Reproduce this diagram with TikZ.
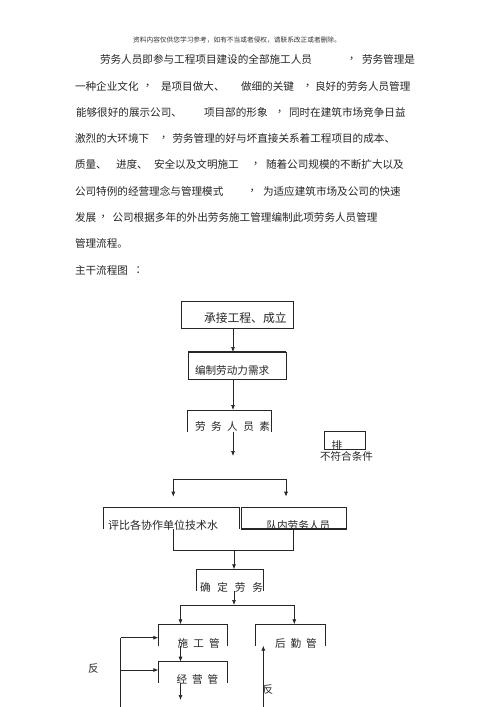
\documentclass[tikz,border=0pt]{standalone}
\usepackage{fontspec}
\setmainfont{Noto Sans CJK SC}
\usetikzlibrary{arrows.meta}
\begin{document}
\begin{tikzpicture}[x=1pt,y=-1pt,
  txt/.style={inner sep=0pt,outer sep=0pt,anchor=west,text=black!85,font=\fontsize{10.6}{12}\selectfont},
  hdr/.style={inner sep=0pt,outer sep=0pt,text=black!80,font=\fontsize{6.7}{8}\selectfont},
  boxn/.style={inner sep=0pt,outer sep=0pt,minimum height=#1},
  ln/.style={line width=0.7pt,black!85},
  arr/.style={ln,-{Latex[length=5pt,width=4pt]}}
]
\useasboundingbox[fill=white] (0,0) rectangle (500,707);

% header
\node[hdr] (hd) at (237,40) {资料内容仅供您学习参考，如有不当或者侵权，请联系改正或者删除。};

% paragraph
\node[txt] (p1a) at (100,59) {劳务人员即参与工程项目建设的全部施工人员};
\node[txt] (p1b) at (349,59) {，};
\node[txt] (p1c) at (362,59) {劳务管理是};

\node[txt] (p2a) at (75,86) {一种企业文化};
\node[txt] (p2b) at (145,86) {，};
\node[txt] (p2c) at (161,86) {是项目做大、};
\node[txt] (p2d) at (241,86) {做细的关键};
\node[txt] (p2e) at (305,86) {，};
\node[txt] (p2f) at (315,86) {良好的劳务人员管理};

\node[txt] (p3a) at (76,112) {能够很好的展示公司、};
\node[txt] (p3b) at (204,112) {项目部的形象};
\node[txt] (p3c) at (277,112) {，};
\node[txt] (p3d) at (289,112) {同时在建筑市场竞争日益};

\node[txt] (p4a) at (75,138) {激烈的大环境下};
\node[txt] (p4b) at (161,138) {，};
\node[txt] (p4c) at (172.5,138) {劳务管理的好与坏直接关系着工程项目的成本、};

\node[txt] (p5a) at (75,164) {质量、};
\node[txt] (p5b) at (116,164) {进度、};
\node[txt] (p5c) at (154,164) {安全以及文明施工};
\node[txt] (p5d) at (253,164) {，};
\node[txt] (p5e) at (266,164) {随着公司规模的不断扩大以及};

\node[txt] (p6a) at (75,191) {公司特例的经营理念与管理模式};
\node[txt] (p6b) at (249.5,191) {，};
\node[txt] (p6c) at (263,191) {为适应建筑市场及公司的快速};

\node[txt] (p7a) at (75,217) {发展};
\node[txt] (p7b) at (100.5,217) {，};
\node[txt] (p7c) at (112.5,217) {公司根据多年的外出劳务施工管理编制此项劳务人员管理};

\node[txt] (p8a) at (75,243) {管理流程。};
\node[txt] (p9a) at (75,270) {主干流程图};
\node[txt] (p9b) at (135.5,270) {：};

% boxes
\node[boxn=27,minimum width=112,draw,ln] (b1) at (237,314.5) {};
\node[boxn=27,minimum width=98,draw,ln] (b2) at (237,365.5) {};
\draw[line width=1.2pt,black!85] (b2.north west) -- (b2.north east);
\node[boxn=22,minimum width=83.5] (b3) at (229.25,421) {};
\draw[ln] (b3.south west) |- (b3.north east) -- (b3.south east);
\node[boxn=17.5,minimum width=41,draw,ln] (bp) at (344.5,440.25) {};
\node[boxn=22,minimum width=136.5] (b4) at (171.25,518) {};
\draw[ln] (b4.south west) |- (b4.north east) -- (b4.south east);
\node[boxn=22,minimum width=104.3,draw,ln] (b5) at (293.85,518) {};
\draw[line width=1.1pt,black!85] (b5.south west) -- (b5.south east);
\node[boxn=21.2,minimum width=67.3] (b6) at (229.65,579.9) {};
\draw[ln] (b6.south west) |- (b6.north east) -- (b6.south east);
\node[boxn=21.4,minimum width=69] (b7) at (192.8,635) {};
\draw[ln] (b7.south west) |- (b7.north east) -- (b7.south east);
\node[boxn=21.4,minimum width=70] (b8) at (290.7,635) {};
\draw[ln] (b8.south west) |- (b8.north east) -- (b8.south east);
\node[boxn=21,minimum width=69] (b9) at (192.8,672.2) {};
\draw[ln] (b9.south west) |- (b9.north east) -- (b9.south east);

% box texts
\node[txt,font=\fontsize{11.8}{13}\selectfont] (t1) at (204,318) {承接工程、成立};
\node[txt] (t2) at (195,370) {编制劳动力需求};
\node[txt] (t3) at (195,426) {劳\hspace{5.5pt}务\hspace{5.5pt}人\hspace{5.5pt}员\hspace{5.5pt}素};
\node[txt] (tp) at (331.5,445) {排};
\node[txt] (tn) at (320,456) {不符合条件};
\node[txt,font=\fontsize{11}{12}\selectfont] (t4) at (108,525) {评比各协作单位技术水};
\node[txt] (t5) at (266.5,525) {队内劳务人员};
\node[txt] (t6) at (200,587) {确\hspace{6.9pt}定\hspace{6.9pt}劳\hspace{6.9pt}务};
\node[txt] (t7) at (177.5,643) {施\hspace{5.2pt}工\hspace{5.2pt}管};
\node[txt] (t8) at (275,643) {后\hspace{5pt}勤\hspace{5pt}管};
\node[txt] (t9) at (176.5,679) {经\hspace{5pt}营\hspace{5pt}管};
\node[txt] (f1) at (88,669) {反};
\node[txt] (f2) at (262.5,689.5) {反};

% axes / junctions
\coordinate (ax) at (233,0);
\coordinate (c1) at (233,456);
\coordinate (brL) at (173.3,479.3);
\coordinate (brR) at (286,479.3);
\coordinate (mL) at (173.3,550.7);
\coordinate (mR) at (293.3,550.7);
\coordinate (mj) at (234,550.7);
\coordinate (sj) at (234,605);
\coordinate (sL) at (180.5,605);
\coordinate (sR) at (294.3,605);
\coordinate (e9) at (180.5,700);
\coordinate (fbb) at (120.7,707);
\coordinate (fbt) at (120.7,637.7);
\coordinate (fbm) at (120.7,670);
\coordinate (frb) at (263.3,707);

% connectors
\draw[arr] (b1.south -| ax) -- (b2.north -| ax);
\draw[arr] (b2.south -| ax) -- (b3.north -| ax);
\draw[arr] (b3.south -| ax) -- (c1);
\draw[ln] (brL) -- (brR);
\draw[arr,shorten >=10.3pt] (brL) -- (brL |- b4.north);
\draw[arr,shorten >=10.3pt] (brR) -- (brR |- b5.north);
\draw[ln] (b4.south -| mL) -- (mL) -- (mR) -- (b5.south -| mR);
\draw[arr] (mj) -- (b6.north -| mj);
\draw[arr] (b6.south -| sj) -- (sj);
\draw[ln] (sL) -- (sR);
\draw[arr] (sL) -- (b7.north -| sL);
\draw[arr] (sR) -- (b8.north -| sR);
\draw[arr] (b7.south -| sL) -- (b9.north -| sL);
\draw[arr] (b9.south -| sL) -- (e9);
\draw[ln] (fbb) -- (fbt);
\draw[arr] (fbt) -- (fbt -| b7.west);
\draw[arr] (fbm) -- (fbm -| b9.west);
\draw[arr] (frb) -- (frb |- b8.south);
\end{tikzpicture}
\end{document}
